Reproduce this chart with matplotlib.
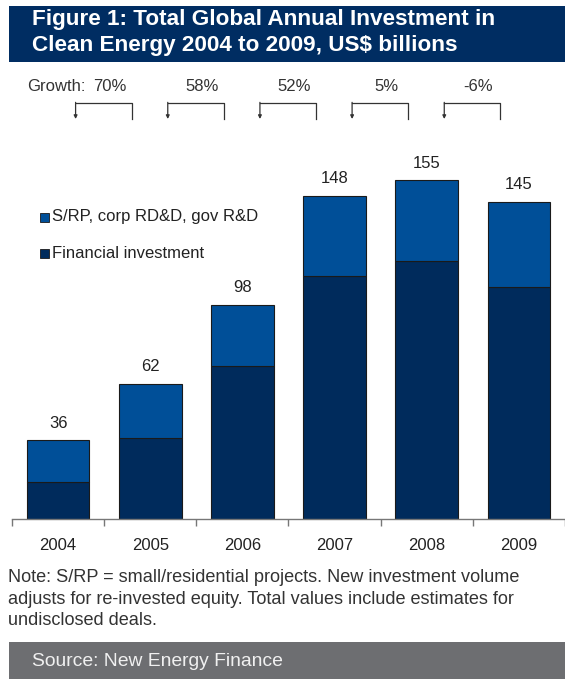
import numpy as np
import matplotlib
matplotlib.use("Agg")
import matplotlib.pyplot as plt
from matplotlib.patches import Rectangle

plt.rcParams['font.family'] = ['Liberation Sans', 'DejaVu Sans']

years = ['2004', '2005', '2006', '2007', '2008', '2009']
financial = [17, 37, 70, 111, 118, 106]
totals = [36, 62, 98, 148, 155, 145]
other = [t - f for t, f in zip(totals, financial)]
growth = ['70%', '58%', '52%', '5%', '-6%']

dark = '#002b5c'
light = '#004f98'
txt = '#333333'

W, H = 565, 679
fig = plt.figure(figsize=(W / 100, H / 100), dpi=100)

def fx(px):
    return px / W

def fy(py):
    return 1 - py / H

# title banner
fig.patches.append(Rectangle((fx(9), fy(62)), fx(W - 9), 56 / H, transform=fig.transFigure,
                             facecolor='#002d62', edgecolor='none'))
fig.text(fx(32), fy(20), 'Figure 1: Total Global Annual Investment in', color='white',
         fontsize=16.2, fontweight='bold', va='center')
fig.text(fx(32), fy(45), 'Clean Energy 2004 to 2009, US$ billions', color='white',
         fontsize=16.2, fontweight='bold', va='center')

# plot area: baseline at y=519px, 2.185 px per unit, category width 94px
ax = fig.add_axes([fx(12), fy(519), fx(W - 12), (519 - 60) / H])
ax.set_xlim(-0.5, -0.5 + (W - 12) / 94)
ax.set_ylim(0, (519 - 60) / 2.185)

x = np.arange(len(years))
ax.bar(x, financial, width=0.68, color=dark, edgecolor='#1a1a1a', linewidth=0.8)
ax.bar(x, other, bottom=financial, width=0.68, color=light, edgecolor='#1a1a1a', linewidth=0.8)

for i, t in enumerate(totals):
    ax.annotate(str(t), (x[i], t), xytext=(0, 7), textcoords='offset points',
                ha='center', va='bottom', fontsize=12, color='#222222')

for s in ['top', 'right', 'left']:
    ax.spines[s].set_visible(False)
ax.spines['bottom'].set_color('#777777')
ax.spines['bottom'].set_linewidth(1.0)
ax.set_yticks([])
ax.set_xticks(np.arange(-0.5, len(years) + 0.5, 1.0), minor=False)
ax.set_xticklabels([])
ax.tick_params(axis='x', which='major', length=5, color='#777777', width=1.0, direction='out')
ax.set_xticks(x, minor=True)
ax.set_xticklabels(years, minor=True)
ax.tick_params(axis='x', which='minor', length=0, pad=14, labelsize=12, labelcolor='#222222')

# growth annotations
yt = (519 - 87) / 2.185
ytop = (519 - 103) / 2.185
ybot = (519 - 119) / 2.185
ax.text(-0.34, yt, 'Growth:', ha='left', va='center', fontsize=12, color=txt, clip_on=False)
for i, g in enumerate(growth):
    ax.text(i + 0.56, yt, g, ha='center', va='center', fontsize=12, color=txt, clip_on=False)
    l, r = i + 0.19, i + 0.8
    ax.plot([r, r, l], [ybot, ytop, ytop], color='#333333', lw=0.9, clip_on=False)
    ax.annotate('', xy=(l, ybot), xytext=(l, ytop + 0.3),
                arrowprops=dict(arrowstyle='-|>', color='#333333', lw=0.9,
                                mutation_scale=5, shrinkA=0, shrinkB=0),
                annotation_clip=False)

# legend
for py, col, lab in [(217, light, 'S/RP, corp RD&D, gov R&D'), (253, dark, 'Financial investment')]:
    fig.patches.append(Rectangle((fx(40), fy(py + 5)), fx(9), 9 / H, transform=fig.transFigure,
                                 facecolor=col, edgecolor='#1a1a1a', linewidth=0.6))
    fig.text(fx(52), fy(py), lab, fontsize=12, color='#222222', va='center')

# note
note = ('Note: S/RP = small/residential projects. New investment volume\n'
        'adjusts for re-invested equity. Total values include estimates for\n'
        'undisclosed deals.')
fig.text(fx(8), fy(569), note, fontsize=13.1, color=txt, va='top', linespacing=1.36)

# source banner
fig.patches.append(Rectangle((fx(9), 0), fx(W - 9), (H - 642) / H, transform=fig.transFigure,
                             facecolor='#6d6e71', edgecolor='none'))
fig.text(fx(32), fy(661), 'Source: New Energy Finance', fontsize=13.9, color='#f0f0f0', va='center')

fig.savefig('out.png', dpi=100)
